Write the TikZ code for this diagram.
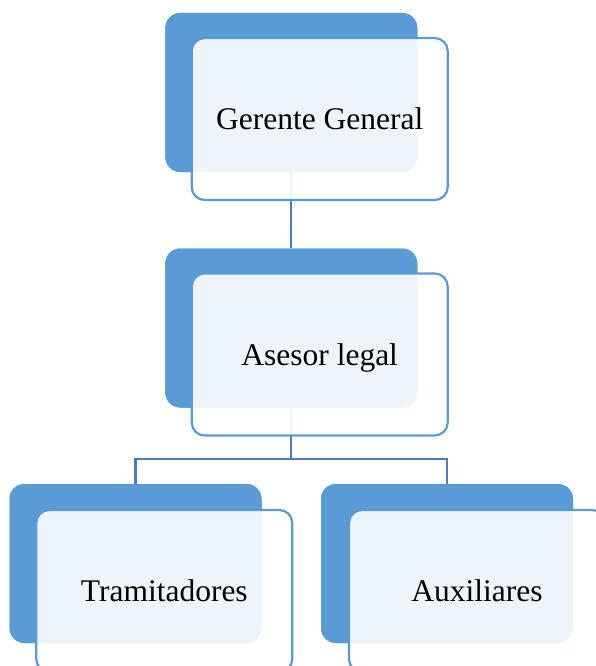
\documentclass[tikz,border=0pt]{standalone}
\usepackage{fontspec}
\setmainfont{Liberation Serif}
\definecolor{boxblue}{HTML}{5B9BD5}
\definecolor{linkblue}{HTML}{4A7EBB}
\begin{document}
\begin{tikzpicture}[x=1pt,y=-1pt,
  backbox/.style={rectangle, rounded corners=15pt, fill=boxblue, draw=none,
    minimum width=252pt, minimum height=159pt, inner sep=0pt},
  frontbox/.style={rectangle, rounded corners=13pt, fill=white, fill opacity=0.9,
    text opacity=1, draw=boxblue, line width=2.2pt,
    minimum width=256pt, minimum height=162pt, inner sep=0pt,
    text height=21pt, text depth=0pt,
    font=\fontsize{31.5}{36}\selectfont, text=black},
  link/.style={draw=linkblue, line width=2.2pt}]
\useasboundingbox (0,0) rectangle (595,666);

% shadow blocks behind each position
\node[backbox] (gb) at (291.3,92.5) {};
\node[backbox] (ab) at (291.3,328) {};
\node[backbox] (tb) at (135.5,563.5) {};
\node[backbox] (xb) at (447,563.5) {};

% connectors between the levels
\coordinate (bus) at (291.3,459);
\draw[link] (gb.south) -- (ab.north);
\draw[link] (ab.south) -- (bus);
\draw[link] (tb.north) |- (bus) -| (xb.north);

% redraw the blocks over the connector ends
\node[backbox] at (gb) {};
\node[backbox] at (ab) {};
\node[backbox] at (tb) {};
\node[backbox] at (xb) {};

% labelled cards
\node[frontbox] (g) at (319.7,119) {Gerente General};
\node[frontbox] (a) at (319.7,354.5) {Asesor legal};
\node[frontbox] (t) at (164.3,591) {Tramitadores};
\node[frontbox] (x) at (477,591) {Auxiliares};
\end{tikzpicture}
\end{document}
